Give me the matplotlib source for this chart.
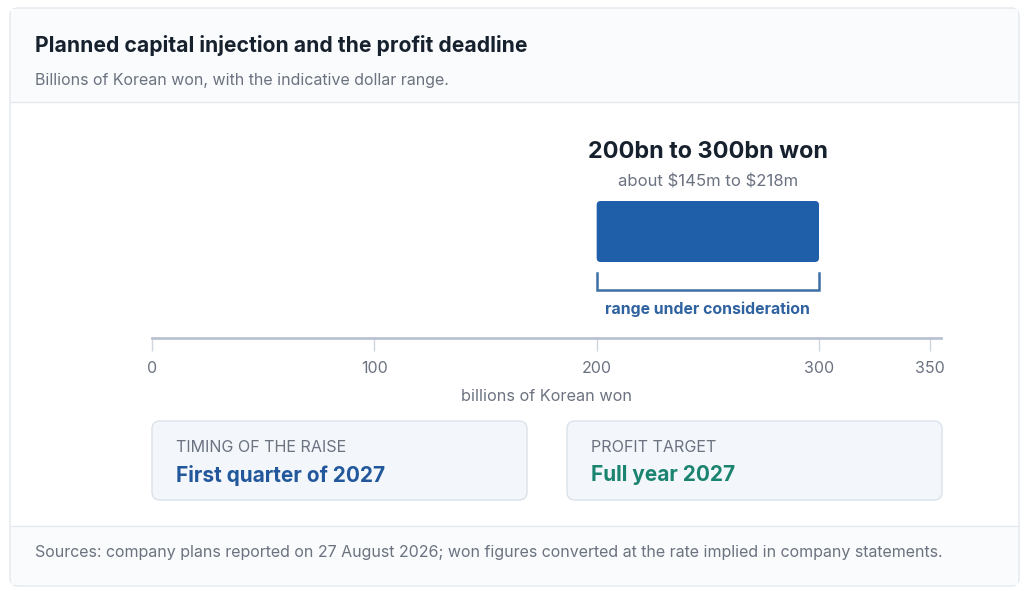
import matplotlib.pyplot as plt
from matplotlib.patches import FancyBboxPatch, Rectangle

plt.rcParams["font.family"] = ["Inter", "DejaVu Sans"]

# data
range_low = 200
range_high = 300
usd_low = 145
usd_high = 218
tick_values = [0, 100, 200, 300, 350]
axis_max = 355

title = "Planned capital injection and the profit deadline"
subtitle = "Billions of Korean won, with the indicative dollar range."
source = ("Sources: company plans reported on 27 August 2026; won figures "
          "converted at the rate implied in company statements.")
cards = [
    ("TIMING OF THE RAISE", "First quarter of 2027", "#22589b"),
    ("PROFIT TARGET", "Full year 2027", "#1b8470"),
]

W, H = 1024, 591
fig = plt.figure(figsize=(W / 100, H / 100), dpi=100)
fig.patch.set_facecolor("white")

# background axes in pixel coordinates
bg = fig.add_axes([0, 0, 1, 1])
bg.set_xlim(0, W)
bg.set_ylim(H, 0)
bg.axis("off")

card = FancyBboxPatch((10, 8), 1009, 578, boxstyle="round,pad=0,rounding_size=8",
                      facecolor="white", edgecolor="#e3e8ee", linewidth=1)
bg.add_patch(card)
bg.add_patch(Rectangle((11, 9), 1007, 93, facecolor="#f9fbfc", edgecolor="none"))
bg.add_patch(Rectangle((11, 526), 1007, 59, facecolor="#f9fbfc", edgecolor="none"))
bg.plot([11, 1018], [102, 102], color="#e5e9ef", lw=1)
bg.plot([11, 1018], [526, 526], color="#e5e9ef", lw=1)

bg.text(35, 46, title, fontsize=15.2, fontweight="bold", color="#17212e", va="center")
bg.text(35, 80, subtitle, fontsize=11.5, color="#6b7280", va="center")
bg.text(35, 552, source, fontsize=11.5, color="#6b7280", va="center")

card_x = [152, 567]
for (label, value, color), x0 in zip(cards, card_x):
    box = FancyBboxPatch((x0, 421), 375, 79, boxstyle="round,pad=0,rounding_size=8",
                         facecolor="#f3f7fb", edgecolor="#dbe2ea", linewidth=1)
    bg.add_patch(box)
    bg.text(x0 + 24, 447, label, fontsize=11.6, color="#6b7280", va="center")
    bg.text(x0 + 24, 475, value, fontsize=15, fontweight="bold", color=color, va="center")

# data axes: x from px 152 to px 152 + 355*2.2222, y from px 338 up to px 130
px_per_unit = (819 - 152) / 300
x_left = 152
x_right = x_left + axis_max * px_per_unit
y_base, y_top = 338, 130
ax = fig.add_axes([x_left / W, 1 - y_base / H, (x_right - x_left) / W, (y_base - y_top) / H])
ax.set_xlim(0, axis_max)
ax.set_ylim(0, 1)
ax.patch.set_alpha(0)
for side in ["top", "left", "right"]:
    ax.spines[side].set_visible(False)
ax.spines["bottom"].set_color("#b9c3d0")
ax.spines["bottom"].set_linewidth(2)
ax.set_yticks([])
ax.set_xticks(tick_values)
ax.set_xticklabels([str(t) for t in tick_values])
ax.tick_params(axis="x", length=9, width=1, color="#cfd6df", labelcolor="#6b7280",
               labelsize=11.5, pad=7.5)
ax.set_xlabel("billions of Korean won", fontsize=11.7, color="#6b7280", labelpad=9.5)

ypx = 1 / (y_base - y_top)  # y units per pixel
aspect = ypx / (1 / px_per_unit)
bar_bottom = (y_base - 262) * ypx
bar_top = (y_base - 201) * ypx
bar = FancyBboxPatch((range_low, bar_bottom), range_high - range_low, bar_top - bar_bottom,
                     boxstyle="round,pad=0,rounding_size=1.8", mutation_aspect=aspect,
                     facecolor="#1f5fa9", edgecolor="none")
ax.add_patch(bar)

# bracket under the bar
br_top = (y_base - 273) * ypx
br_bot = (y_base - 290) * ypx
ax.plot([range_low, range_low, range_high, range_high], [br_top, br_bot, br_bot, br_top],
        color="#3d6ea6", lw=1.8, solid_joinstyle="miter")
mid = (range_low + range_high) / 2
ax.text(mid, (y_base - 309) * ypx, "range under consideration", ha="center", va="center",
        fontsize=11.4, fontweight="bold", color="#2f62a0")
ax.text(mid, (y_base - 152) * ypx, f"{range_low}bn to {range_high}bn won", ha="center",
        va="center", fontsize=16.8, fontweight="bold", color="#17212e")
ax.text(mid, (y_base - 182) * ypx, f"about \\${usd_low}m to \\${usd_high}m", ha="center",
        va="center", fontsize=12, color="#6b7280")

fig.savefig("out.png", dpi=100, facecolor="white")
